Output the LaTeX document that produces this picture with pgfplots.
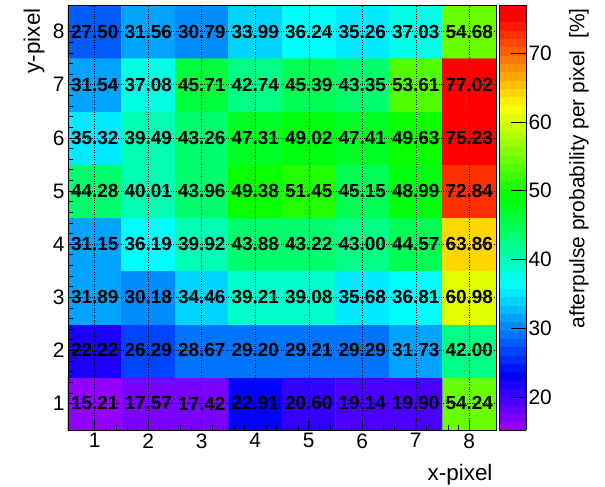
\documentclass[border=0pt]{standalone}
\usepackage{fontspec}
\setmainfont{Liberation Sans}
\usepackage{pgfplots}
\usepackage{pgfplotstable}
\pgfplotsset{compat=1.18}

% afterpulse probability [%] per pixel of the 8x8 array
\pgfplotstableread{
x y z
1 1 15.21
2 1 17.57
3 1 17.42
4 1 22.91
5 1 20.60
6 1 19.14
7 1 19.90
8 1 54.24
1 2 22.22
2 2 26.29
3 2 28.67
4 2 29.20
5 2 29.21
6 2 29.29
7 2 31.73
8 2 42.00
1 3 31.89
2 3 30.18
3 3 34.46
4 3 39.21
5 3 39.08
6 3 35.68
7 3 36.81
8 3 60.98
1 4 31.15
2 4 36.19
3 4 39.92
4 4 43.88
5 4 43.22
6 4 43.00
7 4 44.57
8 4 63.86
1 5 44.28
2 5 40.01
3 5 43.96
4 5 49.38
5 5 51.45
6 5 45.15
7 5 48.99
8 5 72.84
1 6 35.32
2 6 39.49
3 6 43.26
4 6 47.31
5 6 49.02
6 6 47.41
7 6 49.63
8 6 75.23
1 7 31.54
2 7 37.08
3 7 45.71
4 7 42.74
5 7 45.39
6 7 43.35
7 7 53.61
8 7 77.02
1 8 27.50
2 8 31.56
3 8 30.79
4 8 33.99
5 8 36.24
6 8 35.26
7 8 37.03
8 8 54.68
}\apdata

% 50-step violet-to-red palette (HLS hue 280 -> 0)
\def\cmlist{}
\foreach \i in {0,...,49}{%
  \pgfmathsetmacro\hh{(280-(\i+1)*5.6)/360}%
  \xdef\cmlist{\cmlist hsb=(\hh,1,1) }%
}
\xdef\cmlist{\cmlist hsb=(0,1,1)}
\edef\tmp{\noexpand\pgfplotsset{colormap={prettypal}{\cmlist}}}
\tmp

\begin{document}
\begin{tikzpicture}
\begin{axis}[
  at={(0,0)}, anchor=south west,
  scale only axis, width=428bp, height=425bp,
  xmin=0.5, xmax=8.5, ymin=0.5, ymax=8.5,
  xtick={1,...,8}, ytick={1,...,8},
  minor tick num=4,
  tick align=inside, tick pos=left,
  major tick length=9bp, minor tick length=5bp,
  grid=major, major grid style={black, dotted, line width=0.5bp},
  axis on top,
  axis line style={line width=0.8bp},
  tick style={black, line width=0.6bp},
  /pgf/number format/assume math mode=true,
  tick label style={font=\fontsize{21}{24}\selectfont},
  label style={font=\fontsize{22.5}{26}\selectfont},
  xlabel={x-pixel}, ylabel={y-pixel},
  xlabel style={at={(axis description cs:1,0)}, anchor=north east, yshift=-31bp},
  ylabel style={at={(axis description cs:-0.079,1)}, anchor=east},
  colormap name=prettypal,
  colormap access=piecewise constant,
  point meta min=15.21, point meta max=77.02,
  colorbar,
  colorbar shift/.style={},
  colorbar style={
    at={(parent axis.north east)}, anchor=north west, xshift=3bp,
    scale only axis, width=27bp, height=425bp,
    ytick={20,30,...,70},
    yticklabel pos=right, ytick pos=right,
    tick align=inside, major tick length=15bp,
    tick style={black, line width=0.6bp},
    axis line style={line width=0.6bp},
    /pgf/number format/assume math mode=true,
    yticklabel style={font=\fontsize{21}{24}\selectfont, xshift=-1bp},
    ylabel={afterpulse probability per pixel\ \ [\%]},
    ylabel style={font=\fontsize{21}{24}\selectfont, at={(axis description cs:2.96,1.0)}, anchor=east},
  },
]
\addplot[matrix plot*, mesh/cols=8, point meta=explicit] table[x=x, y=y, meta=z] {\apdata};
\addplot[draw=none, point meta=explicit,
  nodes near coords={\pgfmathprintnumber[fixed, fixed zerofill, precision=2]{\pgfplotspointmeta}},
  nodes near coords style={anchor=center, black, font=\bfseries\fontsize{19}{20}\selectfont}]
  table[x=x, y=y, meta=z] {\apdata};
\end{axis}
\pgfresetboundingbox
\useasboundingbox (-68bp,-57bp) rectangle (537bp,430bp);
\end{tikzpicture}
\end{document}
